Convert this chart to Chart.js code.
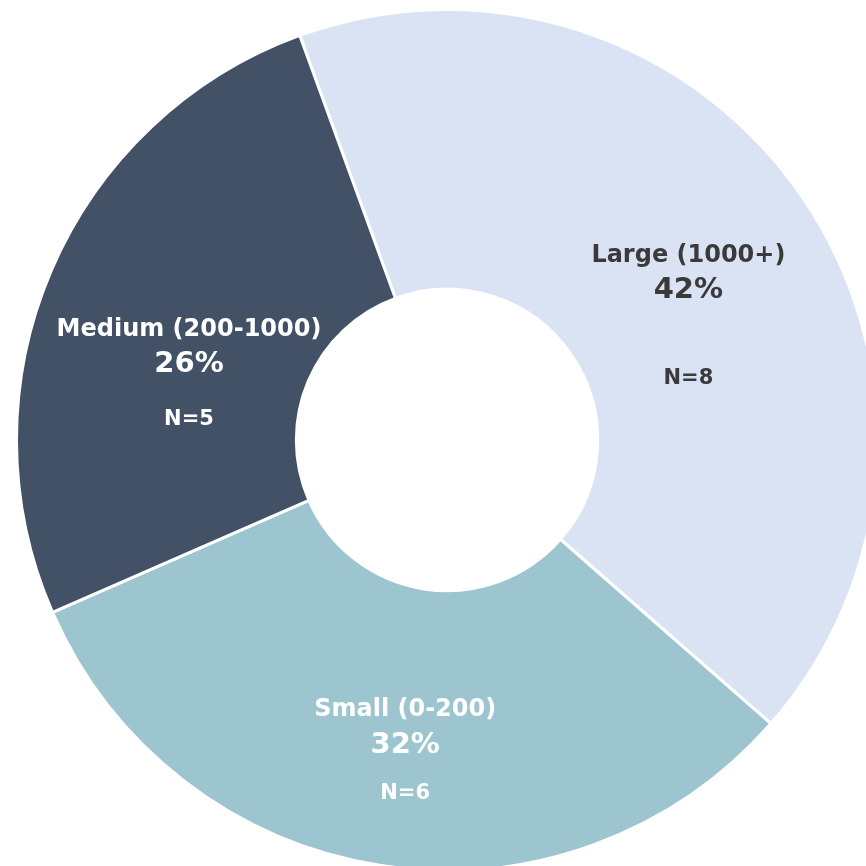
<!DOCTYPE html>
<html>
<head>
<meta charset="utf-8">
<script src="https://cdn.jsdelivr.net/npm/chart.js@4"></script>
<style>
  html, body { margin: 0; padding: 0; background: #ffffff; overflow: hidden; }
  #wrap { position: absolute; left: 15px; top: 8px; width: 864px; height: 864px; }
</style>
</head>
<body>
<div id="wrap"><canvas id="c"></canvas></div>
<script>
const categories = ['Large (1000+)', 'Small (0-200)', 'Medium (200-1000)'];
const percents = [42, 32, 26];
const counts = [8, 6, 5];
const sliceColors = ['#dae3f3', '#9dc5d0', '#435166'];
const textColors = ['#3a3a3a', '#ffffff', '#ffffff'];

// label layout: angular fraction within slice, radius fraction of outer radius, gap pct -> N line
const labelAngleFrac = [0.48, 0.5, 0.5];
const labelRadius = [0.706, 0.635, 0.652];
const nGap = [88, 48, 55];

const labelPlugin = {
  id: 'sliceLabels',
  afterDatasetsDraw(chart) {
    const ctx = chart.ctx;
    const meta = chart.getDatasetMeta(0);
    meta.data.forEach((arc, i) => {
      const p = arc.getProps(['x', 'y', 'startAngle', 'endAngle', 'outerRadius'], true);
      const ang = p.startAngle + (p.endAngle - p.startAngle) * labelAngleFrac[i];
      const r = p.outerRadius * labelRadius[i];
      const x = p.x + Math.cos(ang) * r;
      const y = p.y + Math.sin(ang) * r;
      ctx.save();
      ctx.fillStyle = textColors[i];
      ctx.textAlign = 'center';
      ctx.textBaseline = 'middle';
      ctx.font = 'bold 24px "DejaVu Sans"';
      ctx.fillText(categories[i], x, y);
      ctx.font = 'bold 29px "DejaVu Sans"';
      ctx.fillText(percents[i] + '%', x, y + 35);
      ctx.font = 'bold 21px "DejaVu Sans"';
      ctx.fillText('N=' + counts[i], x, y + 35 + nGap[i]);
      ctx.restore();
    });
  }
};

new Chart(document.getElementById('c'), {
  type: 'doughnut',
  data: {
    labels: categories,
    datasets: [{
      data: percents,
      backgroundColor: sliceColors,
      borderColor: '#ffffff',
      borderWidth: 3
    }]
  },
  options: {
    responsive: true,
    maintainAspectRatio: false,
    animation: false,
    rotation: -20,
    cutout: '35%',
    layout: { padding: 0 },
    plugins: {
      legend: { display: false },
      tooltip: { enabled: false }
    }
  },
  plugins: [labelPlugin]
});
</script>
</body>
</html>
